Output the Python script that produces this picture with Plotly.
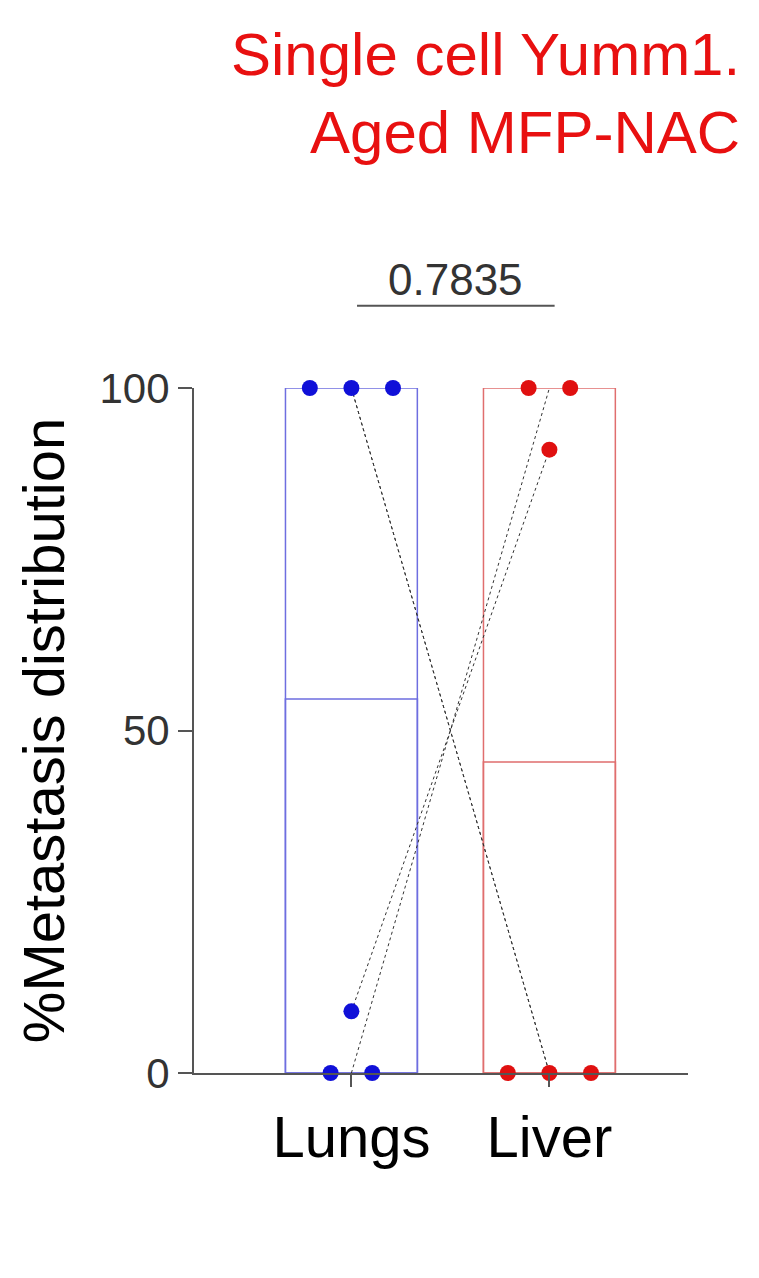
import plotly.graph_objects as go

# ── DATA ────────────────────────────────────────────────────────
groups = ['Lungs', 'Liver']
group_x = [1, 2]
bar_means = [54.6, 45.4]
lungs_vals = [100, 100, 100, 0, 9, 0]
lungs_off = [-0.21, 0, 0.21, -0.105, 0, 0.105]
liver_vals = [100, 100, 91, 0, 0, 0]
liver_off = [-0.105, 0.105, 0, -0.21, 0, 0.21]
pairs = [(100, 0), (100, 0), (9, 91), (0, 100)]
p_value = '0.7835'
colors = ['#1010d8', '#e01010']
edge = ['#6e6ee0', '#e06e6e']

fig = go.Figure()

# bars (mean)
for gx, m, c in zip(group_x, bar_means, edge):
    fig.add_trace(go.Bar(x=[gx], y=[m], width=0.667, marker=dict(color='rgba(0,0,0,0)', line=dict(color=c, width=1.5))))
    fig.add_trace(go.Scatter(x=[gx - 0.333, gx + 0.333, gx + 0.333, gx - 0.333, gx - 0.333],
                             y=[0, 0, 100, 100, 0], mode='lines', line=dict(color=c, width=1.5)))

# paired lines
for a, b in pairs:
    fig.add_trace(go.Scatter(x=[group_x[0], group_x[1]], y=[a, b], mode='lines',
                             line=dict(color='#333', width=1, dash='dot')))

# points
fig.add_trace(go.Scatter(x=[group_x[0] + o for o in lungs_off], y=lungs_vals, mode='markers',
                         marker=dict(color=colors[0], size=16), cliponaxis=False))
fig.add_trace(go.Scatter(x=[group_x[1] + o for o in liver_off], y=liver_vals, mode='markers',
                         marker=dict(color=colors[1], size=16), cliponaxis=False))

fig.update_layout(
    width=759, height=1278, showlegend=False,
    plot_bgcolor='white', paper_bgcolor='white',
    margin=dict(l=186, r=79, t=380, b=213),
    font=dict(family='Liberation Sans, Arial', color='black'),
    xaxis=dict(range=[0.205, 2.70], tickvals=group_x, ticktext=groups, showline=True, linecolor='#555',
               linewidth=2, ticks='outside', ticklen=12, tickcolor='#555', tickwidth=2,
               tickfont=dict(size=58), showgrid=False, zeroline=False),
    yaxis=dict(range=[0, 100], tickvals=[0, 50, 100], showline=True, linecolor='#555', linewidth=2,
               ticks='outside', ticklen=14, tickcolor='#555', tickwidth=2, tickfont=dict(size=42, color='#333'),
               showgrid=False, zeroline=False,
               title=dict(text='%Metastasis distribution', font=dict(size=58), standoff=16)),
    annotations=[
        dict(text='Single cell Yumm1.<br>Aged MFP-NAC', xref='paper', yref='paper', x=1.11, y=1.43,
             xanchor='right', yanchor='middle', align='right', showarrow=False,
             font=dict(size=60, color='#e81010')),
        dict(text=p_value, x=0.53, y=1.197, xref='paper', yref='paper', showarrow=False,
             font=dict(size=44, color='#333')),
    ],
    shapes=[dict(type='line', xref='paper', yref='paper', x0=0.33, x1=0.73, y0=1.12, y1=1.12,
                 line=dict(color='#555', width=2))],
)

fig.write_html("out.html")
